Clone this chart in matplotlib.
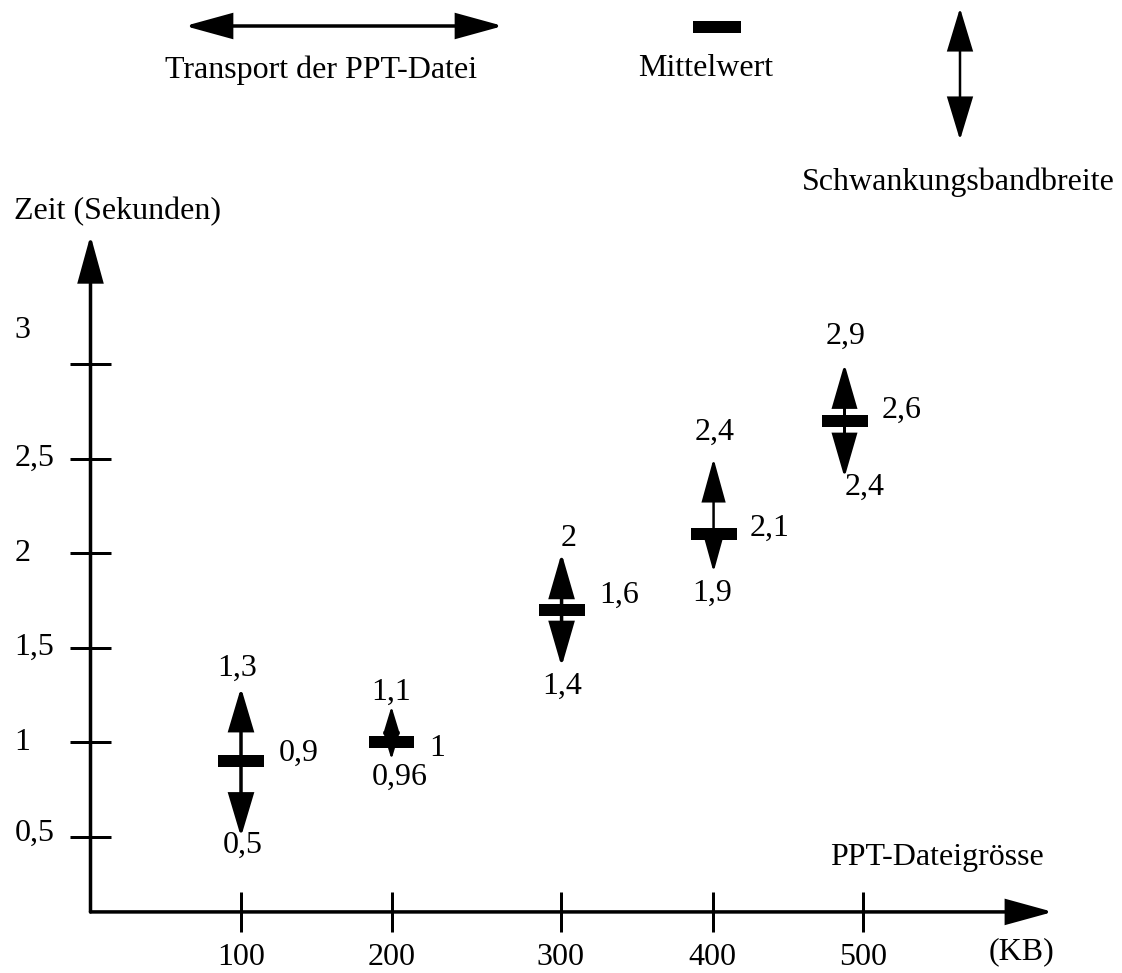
import matplotlib
matplotlib.use('Agg')
import matplotlib.pyplot as plt
from matplotlib.patches import FancyArrowPatch

# ---------------- data ----------------
sizes_kb = [100, 200, 300, 400, 500]
mean_drawn = [0.90, 1.00, 1.70, 2.10, 2.70]
upper_drawn = [1.29, 1.19, 2.00, 2.50, 3.00]
lower_drawn = [0.50, 0.91, 1.40, 1.90, 2.40]
mean_labels = ['0,9', '1', '1,6', '2,1', '2,6']
upper_labels = ['1,3', '1,1', '2', '2,4', '2,9']
lower_labels = ['0,5', '0,96', '1,4', '1,9', '2,4']
y_ticks = [0.5, 1, 1.5, 2, 2.5, 3]
y_tick_labels = ['0,5', '1', '1,5', '2', '2,5', '3']
x_tick_labels = ['100', '200', '300', '400', '500']

# ---------------- layout ----------------
x_tick_pos = [100, 200, 312.5, 413.5, 513.3]
x_mark_pos = [100, 200, 313, 414, 501]
head_len_px = [37, 23, 38, 38, 38]
head_w_px = [22, 14, 22, 21, 22]
shaft_px = [3.5, 2.2, 3.5, 2.5, 3.0]
up_off = [(-4, -19), (0, -14), (7, -15), (1, -26), (1, -28)]
mean_off = [(58, -8), (46, 6), (58, -15), (56, -6), (57, -10)]
low_off = [(2, 8), (8, 18), (1, 20), (-1, 21), (20, 10)]
ytl_off = [(-76, 4), (-76, 0), (-76, 0), (-76, 0), (-76, 0), (-76, 34)]

W, H, DPI = 11.22, 9.73, 100
PX = 72.0 / DPI  # points per pixel
FS = 23

plt.rcParams['font.family'] = ['Liberation Serif', 'DejaVu Serif']

fig = plt.figure(figsize=(W, H), dpi=DPI)
ax = fig.add_axes([0, 0, 1, 1])
# pixel mapping: x_px = 241 + (x-100)*1.505 ; y_px = 837 - (v-0.5)*189.2
ax.set_xlim(100 - 241 / 1.505, 100 + (1122 - 241) / 1.505)
ax.set_ylim(0.5 - (973 - 837) / 189.2, 0.5 + 837 / 189.2)
ax.axis('off')

XU = 1 / 1.505   # data units per px (x)
YU = 1 / 189.2   # data units per px (y)


def arrow(p0, p1, lw_px, hl_px, hw_px, style='-|>'):
    a = FancyArrowPatch(p0, p1,
                        arrowstyle=f'{style},head_length={hl_px*PX},head_width={hw_px/2*PX}',
                        mutation_scale=1, lw=lw_px * PX, color='black',
                        shrinkA=0, shrinkB=0, joinstyle='miter')
    ax.add_patch(a)


def px_text(xpx, ypx, s, ha='center', va='center'):
    ax.text(100 + (xpx - 241) * XU, 0.5 + (837 - ypx) * YU, s, fontsize=FS,
            ha=ha, va=va)


# axes
x_axis_v = 0.104
arrow((0, x_axis_v), (0, 3.68), 3.5, 40, 22)
arrow((0, x_axis_v), (639.5, x_axis_v), 3.5, 40, 22)
for v, lab, off in zip(y_ticks, y_tick_labels, ytl_off):
    ax.plot([-13.3, 13.3], [v, v], color='black', lw=3 * PX, solid_capstyle='butt')
    ax.annotate(lab, (0, v), xytext=(off[0] * PX, off[1] * PX), textcoords='offset points',
                fontsize=FS, ha='left', va='center')
for xp, lab in zip(x_tick_pos, x_tick_labels):
    ax.plot([xp, xp], [x_axis_v - 20 * YU, x_axis_v + 20 * YU], color='black',
            lw=3 * PX, solid_capstyle='butt')
    ax.annotate(lab, (xp, x_axis_v), xytext=(0, -46 * PX), textcoords='offset points',
                fontsize=FS, ha='center', va='center')

px_text(14, 212, 'Zeit (Sekunden)', ha='left')
px_text(937, 858, 'PPT-Dateigrösse')
px_text(1022, 952, '(KB)')

# markers
for i in range(len(sizes_kb)):
    x = x_mark_pos[i]
    arrow((x, mean_drawn[i]), (x, upper_drawn[i]), shaft_px[i], head_len_px[i], head_w_px[i])
    arrow((x, mean_drawn[i]), (x, lower_drawn[i]), shaft_px[i], head_len_px[i], head_w_px[i])
    ax.plot([x - 23 * XU, x + 23 * XU], [mean_drawn[i]] * 2, color='black',
            lw=12 * PX, solid_capstyle='butt')
    for val, lab, off in ((upper_drawn[i], upper_labels[i], up_off[i]),
                          (mean_drawn[i], mean_labels[i], mean_off[i]),
                          (lower_drawn[i], lower_labels[i], low_off[i])):
        ax.annotate(lab, (x, val), xytext=(off[0] * PX, -off[1] * PX),
                    textcoords='offset points', fontsize=FS, ha='center', va='center')

# legend (top)
y_leg = 0.5 + (837 - 26) * YU
arrow((100 + (185 - 241) * XU, y_leg), (100 + (503 - 241) * XU, y_leg), 3.5, 40, 22,
      style='<|-|>')
px_text(321, 70, 'Transport der PPT-Datei')
ax.plot([100 + (693 - 241) * XU, 100 + (741 - 241) * XU], [0.5 + (837 - 27) * YU] * 2,
        color='black', lw=12 * PX, solid_capstyle='butt')
px_text(706, 68, 'Mittelwert')
xv = 100 + (960 - 241) * XU
arrow((xv, 0.5 + (837 - 140) * YU), (xv, 0.5 + (837 - 8) * YU), 2.5, 38, 23, style='<|-|>')
px_text(958, 182, 'Schwankungsbandbreite')

fig.savefig('out.png', dpi=DPI)
